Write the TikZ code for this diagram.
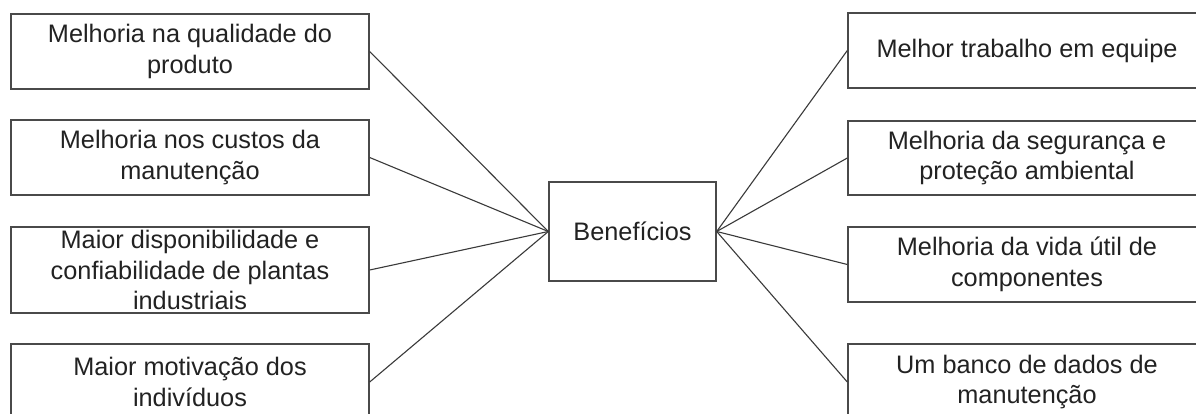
\documentclass[tikz,border=0pt]{standalone}
\usepackage{fontspec}
\setmainfont{Liberation Sans}
\definecolor{boxline}{HTML}{4A4A4A}
\definecolor{conn}{HTML}{3A3A3A}
\definecolor{txt}{HTML}{222222}
\begin{document}
\begin{tikzpicture}[x=1pt,y=-1pt,
  box/.style={draw=boxline,line width=1.4pt,fill=white,minimum width=358pt,inner sep=0pt,
    align=center,text=txt,font=\fontsize{25.3}{30.5}\selectfont},
  conline/.style={draw=conn,line width=1.1pt}]
\useasboundingbox (0,0) rectangle (1196,414);
\clip (0,0) rectangle (1196,414);
\fill[white] (0,0) rectangle (1196,414);
% left boxes
\node[box,minimum height=75pt] (l1) at (190,51.5) {Melhoria na qualidade do\\produto};
\node[box,minimum height=75pt] (l2) at (190,157.5) {Melhoria nos custos da\\manutenção};
\node[box,minimum height=86pt] (l3) at (190,270) {Maior disponibilidade e\\confiabilidade de plantas\\industriais};
\node[box,minimum height=76pt] (l4) at (190,382) {Maior motivação dos\\indivíduos};
% right boxes
\node[box,minimum height=75pt] (r1) at (1027,50.5) {Melhor trabalho em equipe};
\node[box,minimum height=74pt] (r2) at (1027,158) {Melhoria da segurança e\\proteção ambiental};
\node[box,minimum height=75pt] (r3) at (1027,264.5) {Melhoria da vida útil de\\componentes};
\node[box,minimum height=76pt] (r4) at (1027,382) {Um banco de dados de\\manutenção};
% center
\node[box,minimum width=167pt,minimum height=99pt] (c) at (632.5,231.5) {Benefícios};
% connectors
\foreach \n in {l1,l2,l3,l4} \draw[conline] (\n.east) -- (c.west);
\foreach \n in {r1,r2,r3,r4} \draw[conline] (c.east) -- (\n.west);
\end{tikzpicture}
\end{document}
